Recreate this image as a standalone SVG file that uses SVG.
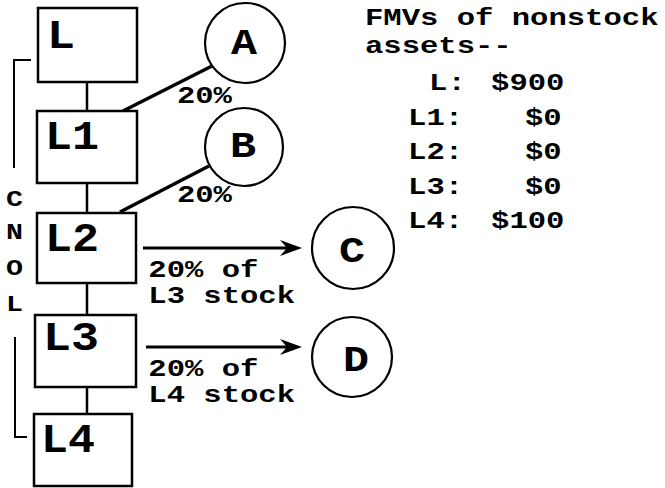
<svg xmlns="http://www.w3.org/2000/svg" width="665" height="488" viewBox="0 0 665 488">
<style>
  .box{fill:#fff;stroke:#000;stroke-width:2.5}
  .circ{fill:#fff;stroke:#000;stroke-width:2.2}
  .ln{stroke:#000;stroke-width:2.5;fill:none}
  .thick{stroke:#000;stroke-width:3.5;fill:none}
  .arr{stroke:#000;stroke-width:3;fill:none;marker-end:url(#ah)}
  .br{stroke:#000;stroke-width:2;fill:none}
  text{font-family:"Liberation Mono","Courier New",monospace;font-weight:bold;fill:#000}
  .big{font-size:40px}
  .mid{font-size:36px}
  .t{font-size:23px}
  .side{font-size:22px}
</style>
<defs>
  <marker id="ah" markerUnits="userSpaceOnUse" markerWidth="24" markerHeight="18" refX="12" refY="8" orient="auto" viewBox="0 0 24 16">
    <path d="M22,8 L0,0 L7,8 L0,16 Z" fill="#000"/>
  </marker>
</defs>
<rect width="665" height="488" fill="#fff"/>

<g id="connectors">
  <line class="ln" x1="87" y1="82" x2="87" y2="111"/>
  <line class="ln" x1="87" y1="183" x2="87" y2="213"/>
  <line class="ln" x1="87" y1="283" x2="87" y2="315"/>
  <line class="ln" x1="87" y1="387" x2="87" y2="414"/>
  <line class="thick" x1="123" y1="111" x2="212" y2="66"/>
  <line class="thick" x1="120" y1="212" x2="209" y2="166"/>
  <line class="arr" x1="143" y1="248" x2="292" y2="248"/>
  <line class="arr" x1="146" y1="347" x2="292" y2="347"/>
  <g transform="scale(1.33,1)" class="t">
    <text x="133" y="103">20%</text>
    <text x="133" y="202">20%</text>
    <text x="111.5" y="277">20% of</text>
    <text x="111.5" y="303">L3 stock</text>
    <text x="111.5" y="376">20% of</text>
    <text x="111.5" y="402">L4 stock</text>
  </g>
</g>

<g id="bracket">
  <polyline class="br" points="31,60 14,60 14,168"/>
  <polyline class="br" points="15,337 15,437 27,437"/>
  <text class="side" x="6" y="206" textLength="17" lengthAdjust="spacingAndGlyphs">C</text>
  <text class="side" x="6" y="239" textLength="17" lengthAdjust="spacingAndGlyphs">N</text>
  <text class="side" x="6" y="275" textLength="17" lengthAdjust="spacingAndGlyphs">O</text>
  <text class="side" x="6" y="311" textLength="17" lengthAdjust="spacingAndGlyphs">L</text>
</g>

<g id="node-L">
  <rect class="box" x="38" y="8" width="99" height="74"/>
  <text class="big" x="47" y="48" textLength="28" lengthAdjust="spacingAndGlyphs">L</text>
</g>
<g id="node-L1">
  <rect class="box" x="37" y="111" width="100" height="72"/>
  <text class="big" x="45" y="149" textLength="54" lengthAdjust="spacingAndGlyphs">L1</text>
</g>
<g id="node-L2">
  <rect class="box" x="37" y="213" width="99" height="70"/>
  <text class="big" x="45" y="251" textLength="54" lengthAdjust="spacingAndGlyphs">L2</text>
</g>
<g id="node-L3">
  <rect class="box" x="35" y="315" width="101" height="72"/>
  <text class="big" x="43" y="350" textLength="56" lengthAdjust="spacingAndGlyphs">L3</text>
</g>
<g id="node-L4">
  <rect class="box" x="34" y="414" width="98" height="72"/>
  <text class="big" x="41" y="452" textLength="54" lengthAdjust="spacingAndGlyphs">L4</text>
</g>

<g id="node-A">
  <circle class="circ" cx="245" cy="43" r="40"/>
  <text class="mid" x="231" y="54" textLength="26" lengthAdjust="spacingAndGlyphs">A</text>
</g>
<g id="node-B">
  <circle class="circ" cx="244" cy="147" r="39"/>
  <text class="mid" x="230" y="157" textLength="26" lengthAdjust="spacingAndGlyphs">B</text>
</g>
<g id="node-C">
  <circle class="circ" cx="353" cy="248" r="41"/>
  <text class="mid" x="339" y="262" textLength="26" lengthAdjust="spacingAndGlyphs">C</text>
</g>
<g id="node-D">
  <circle class="circ" cx="352" cy="357" r="40"/>
  <text class="mid" x="343" y="371" textLength="26" lengthAdjust="spacingAndGlyphs">D</text>
</g>

<g id="fmv-notes" transform="scale(1.33,1)" class="t">
  <text x="274.4" y="25">FMVs of nonstock</text>
  <text x="274.4" y="53">assets--</text>
  <text x="322.6" y="90">L: <tspan x="369.2">$900</tspan></text>
  <text x="306.8" y="125">L1: <tspan x="394.7">$0</tspan></text>
  <text x="306.8" y="159">L2: <tspan x="394.7">$0</tspan></text>
  <text x="306.8" y="194">L3: <tspan x="394.7">$0</tspan></text>
  <text x="306.8" y="228">L4: <tspan x="369.2">$100</tspan></text>
</g>
</svg>
